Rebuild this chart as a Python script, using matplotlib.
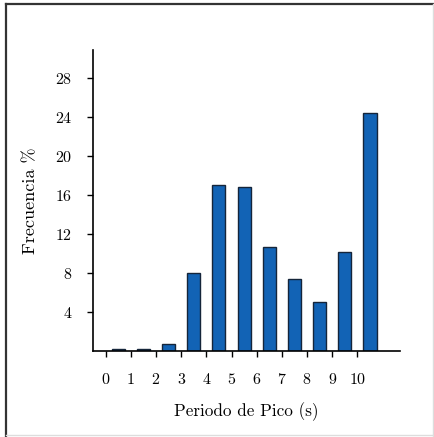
import numpy as np
import matplotlib
matplotlib.use('Agg')
from matplotlib import pyplot as plt
from matplotlib.lines import Line2D

# datos: periodo de pico (s) vs frecuencia %
periodo = np.arange(0, 11) + 0.5
frecuencia = [0.15, 0.15, 0.7, 8.0, 17.0, 16.85, 10.7, 7.35, 5.0, 10.15, 24.4]
xticks = list(range(0, 11))
yticks = [4, 8, 12, 16, 20, 24, 28]

plt.rcParams['font.family'] = ['cmr10', 'DejaVu Serif']
plt.rcParams['axes.formatter.use_mathtext'] = True

fig = plt.figure(figsize=(4.35, 4.37), dpi=100)
ax = fig.add_axes([0.214, 0.197, 0.706, 0.689])

ax.bar(periodo, frecuencia, width=0.52, color='#1263b5', edgecolor='#15253a', linewidth=1.0)

ax.set_xlim(-0.5, 11.7)
ax.set_ylim(0, 30.9)
ax.set_xticks(xticks)
ax.set_yticks(yticks)
ax.tick_params(labelsize=11.5, length=4, width=1, direction='out', pad=11)
ax.spines['top'].set_visible(False)
ax.spines['right'].set_visible(False)
ax.spines['left'].set_linewidth(1.2)
ax.spines['bottom'].set_linewidth(1.2)

ax.set_xlabel('Periodo de Pico (s)', fontsize=12.3, labelpad=11)
ax.set_ylabel('Frecuencia %', fontsize=13, labelpad=12)

# marco de la imagen
fig.add_artist(Line2D([0.014, 0.014], [0.0, 0.99], color='#333333', lw=1.6))
fig.add_artist(Line2D([0.014, 1.0], [0.99, 0.99], color='#333333', lw=1.6))
fig.add_artist(Line2D([0.995, 0.995], [0.0, 0.99], color='#dddddd', lw=1))
fig.add_artist(Line2D([0.014, 1.0], [0.004, 0.004], color='#dddddd', lw=1))

fig.savefig('out.png', dpi=100)
